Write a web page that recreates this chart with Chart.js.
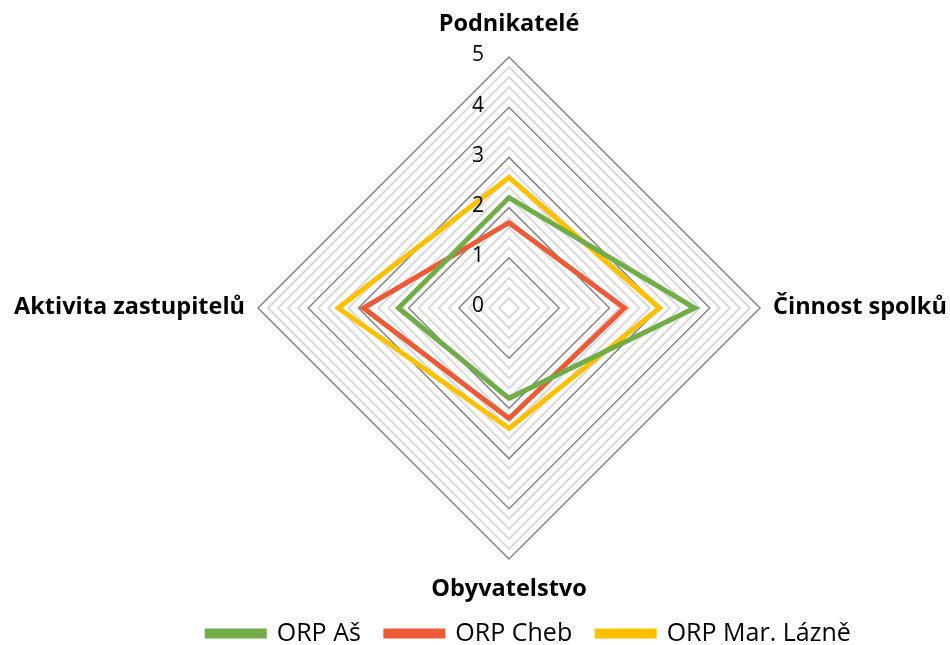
<!DOCTYPE html>
<html>
<head>
<meta charset="utf-8">
<script src="https://cdn.jsdelivr.net/npm/chart.js@4.4.1/dist/chart.umd.min.js"></script>
<style>
  body { margin: 0; background: #fff; }
  #wrap { width: 950px; height: 645px; }
</style>
</head>
<body>
<div id="wrap"><canvas id="myChart1"></canvas></div>
<script>
// categories clockwise from the top
var labels = ["Podnikatelé", "Činnost spolků", "Obyvatelstvo", "Aktivita zastupitelů"];
var seriesNames = ["ORP Aš", "ORP Cheb", "ORP Mar. Lázně"];
var asData = [2.2, 3.7, 1.8, 2.2];
var chebData = [1.7, 2.3, 2.2, 2.9];
var mlData = [2.6, 3.0, 2.4, 3.4];
var tickLabels = [0, 1, 2, 3, 4, 5];

var colors = ["#70AD47", "#EE5A35", "#FFC000"];

function isMajor(v) {
    return Math.abs(v - Math.round(v)) < 1e-6;
}

// integer tick labels left of the vertical axis + category labels
var labelPlugin = {
    id: 'radarLabels',
    afterDraw: function(chart) {
        var s = chart.scales.r;
        var ctx = chart.ctx;
        ctx.save();
        ctx.fillStyle = "#000";
        ctx.font = "21px 'Open Sans'";
        ctx.textAlign = "center";
        ctx.textBaseline = "middle";
        for (var i = 0; i < tickLabels.length; i++) {
            var y = s.yCenter - s.getDistanceFromCenterForValue(tickLabels[i]);
            ctx.fillText(String(tickLabels[i]), s.xCenter - 31, y - 1.5);
        }

        ctx.font = "bold 23.5px 'Open Sans'";
        ctx.textBaseline = "alphabetic";
        for (var j = 0; j < labels.length; j++) {
            var dir = s.getPointPosition(j, 1);
            var dx = dir.x - s.xCenter, dy = dir.y - s.yCenter;
            var p;
            if (Math.abs(dx) < 0.01) {
                p = s.getPointPosition(j, s.drawingArea + (dy < 0 ? 26 : 37));
                ctx.textAlign = "center";
            } else {
                p = s.getPointPosition(j, s.drawingArea + 13);
                p.y += 6;
                ctx.textAlign = dx > 0 ? "left" : "right";
            }
            ctx.fillText(labels[j], p.x, p.y);
        }
        ctx.restore();
    }
};

var datasets = [asData, chebData, mlData].map(function(d, i) {
    return {
        label: seriesNames[i],
        data: d,
        borderColor: colors[i],
        backgroundColor: colors[i],
        borderWidth: 5,
        borderJoinStyle: 'miter',
        fill: false,
        pointRadius: 0,
        pointHoverRadius: 0
    };
});

var ctx1 = document.getElementById("myChart1").getContext("2d");
var myNewChart1 = new Chart(ctx1, {
    type: 'radar',
    data: { labels: labels, datasets: datasets },
    options: {
        responsive: true,
        maintainAspectRatio: false,
        animation: false,
        layout: { padding: { top: 0, bottom: -11, left: 108, right: 0 } },
        plugins: {
            legend: {
                position: 'bottom',
                labels: {
                    boxWidth: 57,
                    boxHeight: 5,
                    padding: 25,
                    color: "#000",
                    font: { family: "'Open Sans'", size: 25 }
                }
            },
            tooltip: { enabled: false }
        },
        scales: {
            r: {
                min: 0,
                max: 5,
                ticks: { stepSize: 0.2, display: false },
                angleLines: { display: false },
                grid: {
                    color: function(c) { return isMajor(c.tick.value) ? "#868686" : "#D9D9D9"; },
                    lineWidth: function(c) { return isMajor(c.tick.value) ? 1.5 : 2; }
                },
                pointLabels: { display: false },
                // place the diamond where the reference has it
                afterFit: function(scale) {
                    scale.xCenter = 509;
                    scale.yCenter = 308;
                    scale.drawingArea = 251;
                }
            }
        }
    },
    plugins: [labelPlugin]
});
</script>
</body>
</html>
